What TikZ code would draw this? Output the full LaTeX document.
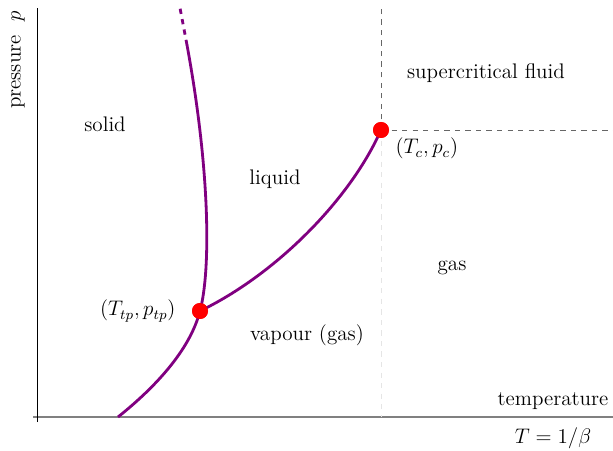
\documentclass[tikz,border=0pt]{standalone}
\usepackage{amsmath,amssymb}
\usetikzlibrary{positioning}

\begin{document}
\begin{tikzpicture}[every node/.style={font=\large},phase/.style={violet,line width=1.6pt},pt/.style={circle,fill=red,inner sep=0pt,minimum size=.32cm},guide/.style={dashed,gray!80!black}]
\useasboundingbox(0,0)rectangle(12.26,9);
% axes
\draw[gray,line width=.8pt](.66,.66)--(12.26,.66);\draw(.74,.56)--(.74,8.84);
\node[rotate=90]at(.36,7.8){pressure\ \ $p$};
\node(temp)at(11.06,.98){temperature};\node(beta)at(11.06,.24){$T=1/\beta$};
% points
\node[pt](triple)at(4,2.78){};\node[pt](crit)at(7.62,6.4){};
\coordinate(sub)at(2.36,.66);\coordinate(melt)at(3.74,8.1);\coordinate(top)at(3.6,8.84);
\coordinate(ctop)at(7.62,8.84);\coordinate(cbot)at(7.62,.66);\coordinate(cright)at(12.26,6.4);
% guides
\draw[guide](crit.center)--(ctop);\draw[guide](crit.center)--(cright);\draw[dashed,gray!20](crit.center)--(cbot);
% phase lines
\draw[phase](sub)..controls(3.1,1.25)and(3.8,2)..(triple.center);
\draw[phase](triple.center)..controls(4.22,3.6)and(4.2,5.6)..(melt);\draw[phase,dashed](melt)--(top);
\draw[phase](triple.center)..controls(5.5,3.5)and(7,5)..(crit.center);
\node[pt]at(triple){};\node[pt]at(crit){};
\node[below right=-.08cm and .05cm of crit]{$(T_c,p_c)$};\node[left=.2cm of triple]{$(T_{tp},p_{tp})$};
% regions
\node(solid)at(2.1,6.52){solid};\node(liquid)at(5.5,5.42){liquid};\node(fluid)at(9.72,7.54){supercritical fluid};
\node(gas)at(9.04,3.64){gas};\node(vapour)at(6.14,2.3){vapour (gas)};
\end{tikzpicture}
\end{document}
